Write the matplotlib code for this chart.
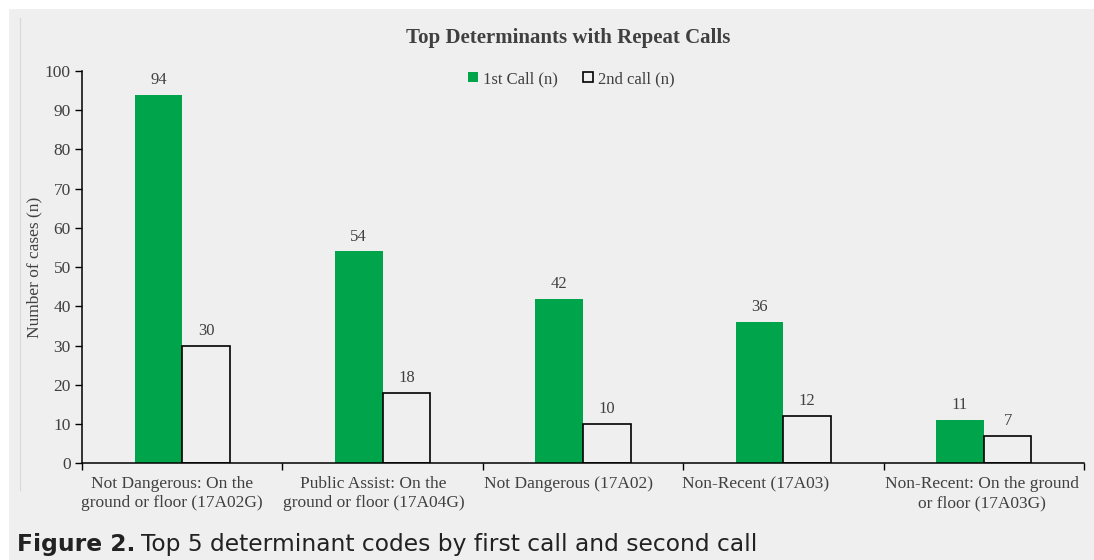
import matplotlib
matplotlib.use("Agg")
import matplotlib.pyplot as plt
import matplotlib.transforms as mtransforms
import numpy as np
from matplotlib.patches import Rectangle
from matplotlib.lines import Line2D

categories = [
    "Not Dangerous: On the\nground or floor (17A02G)",
    "Public Assist: On the\nground or floor (17A04G)",
    "Not Dangerous (17A02)",
    "Non-Recent (17A03)",
    "Non-Recent: On the ground\nor floor (17A03G)",
]
first_call = [94, 54, 42, 36, 11]
second_call = [30, 18, 10, 12, 7]
series_names = ["1st Call (n)", "2nd call (n)"]
y_ticks = list(range(0, 101, 10))

# horizontal nudge (pixels) of each category label, as laid out in the original
label_shift_px = [-10, -9, -15, -28, -2]

BG = "#efefef"
GREEN = "#00a54b"
TXT = "#404040"
SERIF = "Liberation Serif"

W, H = 1094, 560
fig = plt.figure(figsize=(W / 100, H / 100), dpi=100)
fig.patch.set_facecolor(BG)
fig.patches.append(Rectangle((0, 1 - 9 / H), 1, 9 / H, transform=fig.transFigure,
                             facecolor="white", edgecolor="none", zorder=0))
fig.patches.append(Rectangle((0, 0), 9 / W, 1, transform=fig.transFigure,
                             facecolor="white", edgecolor="none", zorder=0))
fig.lines.append(Line2D([20 / W, 20 / W], [1 - 18 / H, 1 - 490 / H], transform=fig.transFigure,
                        color="#d8d8d8", lw=0.8))

left, right = 82 / W, 1084 / W
bottom, top = 1 - 463.3 / H, 1 - 71 / H
ax = fig.add_axes([left, bottom, right - left, top - bottom])
ax.set_facecolor(BG)

x = np.arange(len(categories))
bw = 0.238
b1 = ax.bar(x - bw / 2, first_call, width=bw, color=GREEN, edgecolor="none", label=series_names[0])
b2 = ax.bar(x + bw / 2, second_call, width=bw, facecolor="none", edgecolor="black",
            linewidth=1.2, label=series_names[1])

for bars, vals in ((b1, first_call), (b2, second_call)):
    for r, v in zip(bars, vals):
        ax.annotate(str(v), (r.get_x() + r.get_width() / 2, v), xytext=(0, 5),
                    textcoords="offset points", ha="center", va="bottom",
                    fontsize=12, family=SERIF, color=TXT)

ax.set_xlim(-0.5, len(categories) - 0.5)
ax.set_ylim(0, 100)
ax.set_yticks(y_ticks)
ax.set_yticklabels([str(t) for t in y_ticks], fontsize=12.5, family=SERIF, color=TXT)
ax.set_xticks(np.arange(len(categories) + 1) - 0.5)
ax.set_xticklabels([])
ax.tick_params(axis="x", which="major", length=5, width=1, color="black")
ax.tick_params(axis="y", length=5, width=1, color="black", pad=3)

# category labels drawn under each group
base = mtransforms.blended_transform_factory(ax.transData, ax.transAxes)
for xi, lab, dx in zip(x, categories, label_shift_px):
    tr = base + mtransforms.ScaledTranslation(dx / 100, -13 / 100, fig.dpi_scale_trans)
    ax.text(xi, 0, lab, transform=tr, ha="center", va="top", fontsize=12.5, family=SERIF,
            color=TXT, linespacing=1.25, multialignment="center")

for s in ("top", "right"):
    ax.spines[s].set_visible(False)
ax.spines["left"].set_linewidth(1.1)
ax.spines["bottom"].set_linewidth(1.1)

ax.set_ylabel("Number of cases (n)", fontsize=12.5, family=SERIF, color=TXT, labelpad=2)

fig.text(568 / W, 1 - 38 / H, "Top Determinants with Repeat Calls", ha="center", va="center",
         fontsize=15, fontweight="bold", family=SERIF, color=TXT)

fig.legend(handles=[b1, b2], labels=series_names, loc="center", bbox_to_anchor=(571 / W, 1 - 79 / H),
           ncol=2, frameon=False, prop={"family": SERIF, "size": 12}, labelcolor=TXT,
           handlelength=0.6, handleheight=0.6, handletextpad=0.3, columnspacing=1.5)

cap_y = 1 - 545 / H
t1 = fig.text(17 / W, cap_y, "Figure 2.", ha="left", va="center", fontsize=16.8,
              fontweight="bold", family="DejaVu Sans", color="#222222")
fig.canvas.draw()
bb = t1.get_window_extent()
fig.text((bb.x1 + 6) / W, cap_y, "Top 5 determinant codes by first call and second call", ha="left",
         va="center", fontsize=16.8, family="DejaVu Sans", color="#222222")

fig.savefig("out.png", dpi=100, facecolor=fig.get_facecolor())
